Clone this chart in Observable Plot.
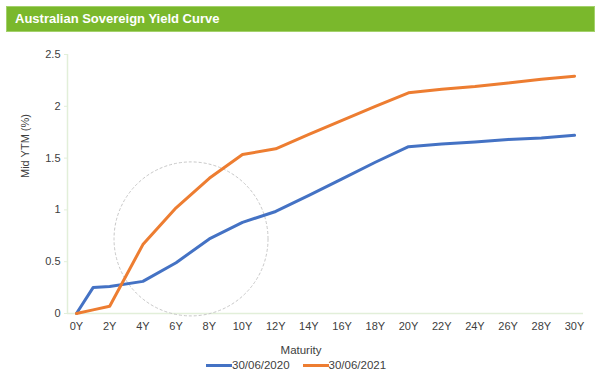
<!DOCTYPE html>
<html>
<head>
<meta charset="utf-8">
<script src="https://cdn.jsdelivr.net/npm/d3@7"></script>
<script src="https://cdn.jsdelivr.net/npm/@observablehq/plot@0.6"></script>
<style>
  html, body { margin: 0; padding: 0; background: #fff; }
  body { width: 602px; height: 385px; position: relative; overflow: hidden; font-family: "Liberation Sans", Arial, Helvetica, sans-serif; }
  #header { position: absolute; left: 6px; top: 6px; width: 587px; height: 24px; background: #7ab82c; border: 1px solid #a3d16b; }
  #header span { position: absolute; left: 8px; top: 4px; color: #fff; font-weight: bold; font-size: 13px; line-height: 16px; }
  #chart { position: absolute; left: 0; top: 0; }
  #xlabel { position: absolute; left: 0; width: 602px; top: 344px; text-align: center; font-size: 11.5px; color: #404040; }
  #legend { position: absolute; top: 359px; left: 206px; font-size: 11.5px; color: #404040; display: flex; align-items: center; }
  .sw { display: inline-block; width: 26px; height: 3px; }
  .item { display: flex; align-items: center; }
</style>
</head>
<body>
<div id="chart"></div>
<div id="header"><span>Australian Sovereign Yield Curve</span></div>
<div id="xlabel">Maturity</div>
<div id="legend"></div>
<script>
// Data
const maturities2020 = [0, 1, 2, 4, 6, 8, 10, 12, 14, 16, 18, 20, 22, 24, 26, 28, 30];
const yields2020     = [0, 0.25, 0.26, 0.31, 0.49, 0.72, 0.88, 0.985, 1.14, 1.30, 1.46, 1.61, 1.635, 1.655, 1.68, 1.695, 1.72];
const maturities2021 = [0, 1, 2, 4, 6, 8, 10, 12, 14, 16, 18, 20, 22, 24, 26, 28, 30];
const yields2021     = [0, 0.035, 0.07, 0.665, 1.02, 1.305, 1.535, 1.59, 1.73, 1.865, 2.0, 2.13, 2.165, 2.19, 2.225, 2.26, 2.29];
const seriesNames = ["30/06/2020", "30/06/2021"];
const seriesColors = ["#4472c4", "#ed7d31"];
const xTickValues = [0, 2, 4, 6, 8, 10, 12, 14, 16, 18, 20, 22, 24, 26, 28, 30];
const xTickLabels = ["0Y", "2Y", "4Y", "6Y", "8Y", "10Y", "12Y", "14Y", "16Y", "18Y", "20Y", "22Y", "24Y", "26Y", "28Y", "30Y"];
const yTickValues = [0, 0.5, 1, 1.5, 2, 2.5];
const yTickLabels = ["0", "0.5", "1", "1.5", "2", "2.5"];
const highlightCircle = [{maturity: 6.9, yield: 0.72}];

const data = [
  ...maturities2020.map((m, i) => ({series: seriesNames[0], maturity: m, yield: yields2020[i]})),
  ...maturities2021.map((m, i) => ({series: seriesNames[1], maturity: m, yield: yields2021[i]}))
];

const axisColor = "#e2efd9";
const textColor = "#404040";
const xDomain = [-0.54, 30.54];

const chart = Plot.plot({
  width: 602,
  height: 385,
  marginTop: 54,
  marginBottom: 72,
  marginLeft: 67,
  marginRight: 19,
  style: {fontFamily: "'Liberation Sans', Arial, Helvetica, sans-serif", fontSize: "11px", background: "transparent"},
  x: {domain: xDomain},
  y: {domain: [0, 2.5]},
  color: {domain: seriesNames, range: seriesColors},
  marks: [
    Plot.ruleX([xDomain[0]], {y1: 0, y2: 2.5, stroke: axisColor, strokeWidth: 1.5}),
    Plot.ruleY([0], {x1: xDomain[0], x2: xDomain[1], stroke: axisColor, strokeWidth: 1.5}),
    Plot.axisX({ticks: xTickValues, tickFormat: (d) => xTickLabels[xTickValues.indexOf(d)], tickSize: 0, tickPadding: 9, label: null, color: textColor, fontSize: 11}),
    Plot.axisY({ticks: yTickValues, tickFormat: (d) => yTickLabels[yTickValues.indexOf(d)], tickSize: 3, tickPadding: 4, stroke: axisColor, label: null, color: textColor, fontSize: 11}),
    Plot.text(["Mid YTM (%)"], {frameAnchor: "left", dx: -42, dy: -6, rotate: -90, fill: textColor, fontSize: 11}),
    Plot.dot(highlightCircle, {x: "maturity", y: "yield", r: 77, stroke: "#c8c8c8", strokeWidth: 1, strokeDasharray: "3,2", fill: "none"}),
    Plot.line(data, {x: "maturity", y: "yield", z: "series", stroke: "series", strokeWidth: 3, strokeLinejoin: "round"})
  ]
});
document.getElementById("chart").appendChild(chart);

const legend = document.getElementById("legend");
seriesNames.forEach((name, i) => {
  const item = document.createElement("div");
  item.className = "item";
  item.style.marginRight = i === 0 ? "13px" : "0";
  const sw = document.createElement("span");
  sw.className = "sw";
  sw.style.background = seriesColors[i];
  const label = document.createElement("span");
  label.textContent = name;
  item.appendChild(sw);
  item.appendChild(label);
  legend.appendChild(item);
});
</script>
</body>
</html>
